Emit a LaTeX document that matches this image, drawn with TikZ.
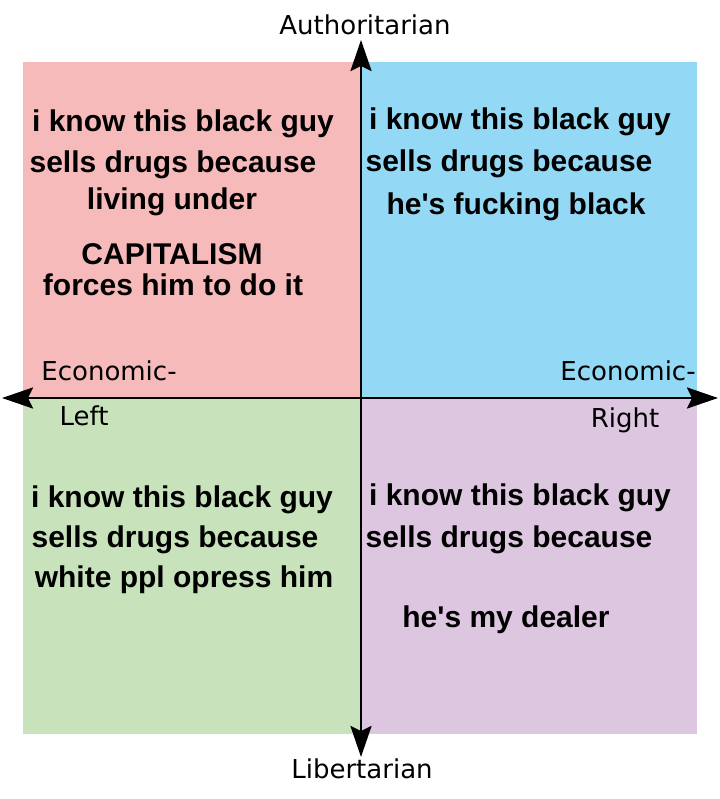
\documentclass[tikz,border=0pt]{standalone}
\usepackage{fontspec}
\setmainfont{Liberation Sans}
\newfontfamily\axisfont{DejaVu Sans}
\usetikzlibrary{arrows.meta}
\definecolor{q_red}{RGB}{247,186,186}
\definecolor{q_blue}{RGB}{147,216,245}
\definecolor{q_green}{RGB}{200,227,188}
\definecolor{q_purple}{RGB}{221,198,224}
\tikzset{
  quad/.style = {anchor=north west, inner sep=0pt, outer sep=0pt, minimum width=337pt, minimum height=336pt},
  meme_txt/.style = {anchor=base, inner sep=0pt, font=\fontsize{30}{35}\selectfont\bfseries},
  ax_txt/.style = {anchor=base, inner sep=0pt, font=\axisfont\fontsize{26}{30}\selectfont},
  axis/.style = {line width=2.5pt, {Stealth[length=31pt,width=21pt,inset=5pt]}-{Stealth[length=31pt,width=21pt,inset=5pt]}},
}

\begin{document}
\begin{tikzpicture}[x=1pt, y=-1pt]
  \useasboundingbox (0,0) rectangle (719,799);
  % quadrants
  \node [quad, fill=q_red] (qtl) at (23,62) {};
  \node [quad, fill=q_blue] (qtr) at (360,62) {};
  \node [quad, fill=q_green] (qbl) at (23,398) {};
  \node [quad, fill=q_purple] (qbr) at (360,398) {};
  % axes
  \coordinate (ax_w) at (2,398);
  \coordinate (ax_e) at (718,398);
  \coordinate (ax_n) at (361,40);
  \coordinate (ax_s) at (361,757);
  \draw [axis] (ax_w) -- (ax_e);
  \draw [axis] (ax_s) -- (ax_n);
  % axis labels
  \node [ax_txt] (auth) at (365,35) {Authoritarian};
  \node [ax_txt] (lib) at (362,778) {Libertarian};
  \node [ax_txt] (econ_l) at (109,380) {Economic-};
  \node [ax_txt] (left) at (84,425) {Left};
  \node [ax_txt] (econ_r) at (628,380) {Economic-};
  \node [ax_txt] (right) at (625,427) {Right};
  % top left
  \node [meme_txt] (tl1) at (183,132) {i know this black guy};
  \node [meme_txt] (tl2) at (173,173) {sells drugs because};
  \node [meme_txt] (tl3) at (172,210) {living under};
  \node [meme_txt] (tl4) at (172,265) {CAPITALISM};
  \node [meme_txt] (tl5) at (173,295) {forces him to do it};
  % top right
  \node [meme_txt] (tr1) at (520,130) {i know this black guy};
  \node [meme_txt] (tr2) at (509,172) {sells drugs because};
  \node [meme_txt] (tr3) at (516,215) {he\textquotesingle s fucking black};
  % bottom left
  \node [meme_txt] (bl1) at (182,507) {i know this black guy};
  \node [meme_txt] (bl2) at (175,547) {sells drugs because};
  \node [meme_txt] (bl3) at (184,587) {white ppl opress him};
  % bottom right
  \node [meme_txt] (br1) at (520,505) {i know this black guy};
  \node [meme_txt] (br2) at (509,547) {sells drugs because};
  \node [meme_txt] (br3) at (506,627) {he\textquotesingle s my dealer};
\end{tikzpicture}
\end{document}
